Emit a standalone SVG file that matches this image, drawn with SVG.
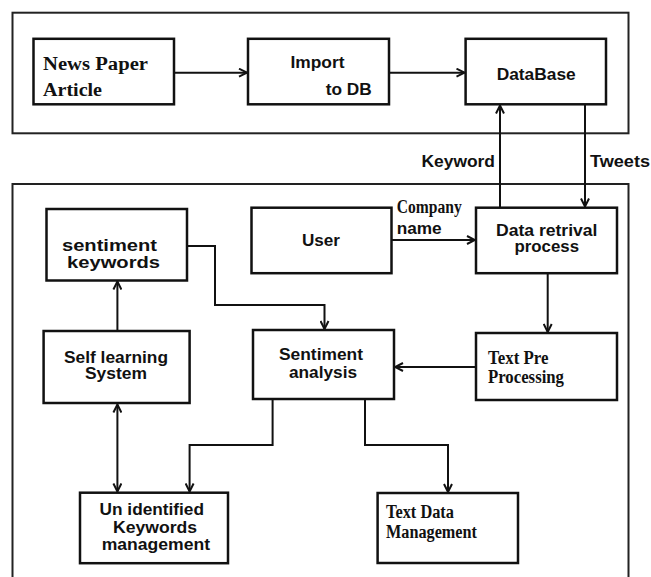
<svg xmlns="http://www.w3.org/2000/svg" width="651" height="577" viewBox="0 0 651 577">
<style>
.frame{fill:none;stroke:#222;stroke-width:2}
.box{fill:#fff;stroke:#111;stroke-width:2.5}
.c{fill:none;stroke:#111;stroke-width:2}
.s{font-family:"Liberation Sans",Arial,sans-serif;font-weight:bold;font-size:16px;fill:#111}
.r{font-family:"Liberation Serif","Times New Roman",serif;font-weight:bold;font-size:18px;fill:#111}
</style>
<defs>
<marker id="a" viewBox="0 0 10 10" refX="9" refY="5" markerWidth="10" markerHeight="10" markerUnits="userSpaceOnUse" orient="auto-start-reverse">
<path d="M1,1 L9,5 L1,9" fill="none" stroke="#111" stroke-width="2"/>
</marker>
</defs>
<rect width="651" height="577" fill="#fff"/>
<g id="frames">
<rect class="frame" x="12.5" y="12.7" width="616" height="120.6"/>
<path class="frame" d="M12.5,590 V184 H628.5 V590"/>
</g>
<g id="news"><rect class="box" x="33.5" y="38.8" width="140.5" height="65.5"/>
<text class="r" x="43" y="69.5" font-size="21" textLength="105" lengthAdjust="spacingAndGlyphs">News Paper</text>
<text class="r" x="43" y="95.5" font-size="21" textLength="59" lengthAdjust="spacingAndGlyphs">Article</text></g>
<g id="import"><rect class="box" x="248" y="38.8" width="141" height="65.5"/>
<text class="s" x="290.5" y="68" textLength="54" lengthAdjust="spacingAndGlyphs">Import</text>
<text class="s" x="325.7" y="94.5" textLength="46" lengthAdjust="spacingAndGlyphs">to DB</text></g>
<g id="database"><rect class="box" x="465.6" y="38.8" width="140.4" height="65.5"/>
<text class="s" x="496.7" y="80" textLength="79" lengthAdjust="spacingAndGlyphs">DataBase</text></g>
<g id="sentkw"><rect class="box" x="46.5" y="209" width="140.5" height="71.5"/>
<text class="s" x="62" y="251" textLength="95" lengthAdjust="spacingAndGlyphs">sentiment</text>
<text class="s" x="67" y="268" textLength="93" lengthAdjust="spacingAndGlyphs">keywords</text></g>
<g id="user"><rect class="box" x="251.5" y="207.7" width="140" height="65.5"/>
<text class="s" x="302" y="245.5" textLength="38" lengthAdjust="spacingAndGlyphs">User</text></g>
<g id="retrival"><rect class="box" x="476" y="207.7" width="141" height="65.5"/>
<text class="s" x="496" y="236" textLength="101.5" lengthAdjust="spacingAndGlyphs">Data retrival</text>
<text class="s" x="514.5" y="252" textLength="64.5" lengthAdjust="spacingAndGlyphs">process</text></g>
<g id="selflearn"><rect class="box" x="43.6" y="331" width="146" height="72"/>
<text class="s" x="64" y="362.7" textLength="104" lengthAdjust="spacingAndGlyphs">Self learning</text>
<text class="s" x="85" y="379" textLength="62" lengthAdjust="spacingAndGlyphs">System</text></g>
<g id="sentiment"><rect class="box" x="253" y="330" width="141" height="69"/>
<text class="s" x="279" y="360" textLength="84" lengthAdjust="spacingAndGlyphs">Sentiment</text>
<text class="s" x="289" y="378" textLength="68" lengthAdjust="spacingAndGlyphs">analysis</text></g>
<g id="textpre"><rect class="box" x="476" y="333" width="141" height="67"/>
<text class="r" x="488" y="364" textLength="60.5" lengthAdjust="spacingAndGlyphs">Text Pre</text>
<text class="r" x="488" y="383" textLength="76" lengthAdjust="spacingAndGlyphs">Processing</text></g>
<g id="unidentified"><rect class="box" x="80" y="492.7" width="148" height="70.5"/>
<text class="s" x="99.6" y="515" textLength="104.4" lengthAdjust="spacingAndGlyphs">Un identified</text>
<text class="s" x="113" y="533" textLength="84" lengthAdjust="spacingAndGlyphs">Keywords</text>
<text class="s" x="101.7" y="550" textLength="108.3" lengthAdjust="spacingAndGlyphs">management</text></g>
<g id="textdata"><rect class="box" x="377.6" y="493" width="140.4" height="70"/>
<text class="r" x="386" y="517.7" textLength="68" lengthAdjust="spacingAndGlyphs">Text Data</text>
<text class="r" x="386" y="538" textLength="91" lengthAdjust="spacingAndGlyphs">Management</text></g>
<g id="connectors">
<path class="c" d="M174,72.7 H247" marker-end="url(#a)"/>
<path class="c" d="M389,72.7 H464.5" marker-end="url(#a)"/>
<path class="c" d="M500,207.7 V105.5" marker-end="url(#a)"/>
<path class="c" d="M585,104.3 V206.5" marker-end="url(#a)"/>
<path class="c" d="M391.5,240 H475" marker-end="url(#a)"/>
<path class="c" d="M547.7,273.2 V332" marker-end="url(#a)"/>
<path class="c" d="M476,367 H395" marker-end="url(#a)"/>
<path class="c" d="M187,246 H215 V305 H324.5 V329" marker-end="url(#a)"/>
<path class="c" d="M117.4,331 V281.5" marker-end="url(#a)"/>
<path class="c" d="M117.4,404.5 V491.5" marker-start="url(#a)" marker-end="url(#a)"/>
<path class="c" d="M272.6,399 V445 H189.6 V491.5" marker-end="url(#a)"/>
<path class="c" d="M365,399 V445 H448 V492" marker-end="url(#a)"/>
<text class="s" x="421.5" y="166.7" textLength="73.5" lengthAdjust="spacingAndGlyphs">Keyword</text>
<text class="s" x="590" y="166.7" textLength="60" lengthAdjust="spacingAndGlyphs">Tweets</text>
<text class="r" x="396.7" y="213" font-size="16" textLength="65" lengthAdjust="spacingAndGlyphs">Company</text>
<text class="s" x="396.7" y="234" textLength="45" lengthAdjust="spacingAndGlyphs">name</text>
</g>
</svg>
